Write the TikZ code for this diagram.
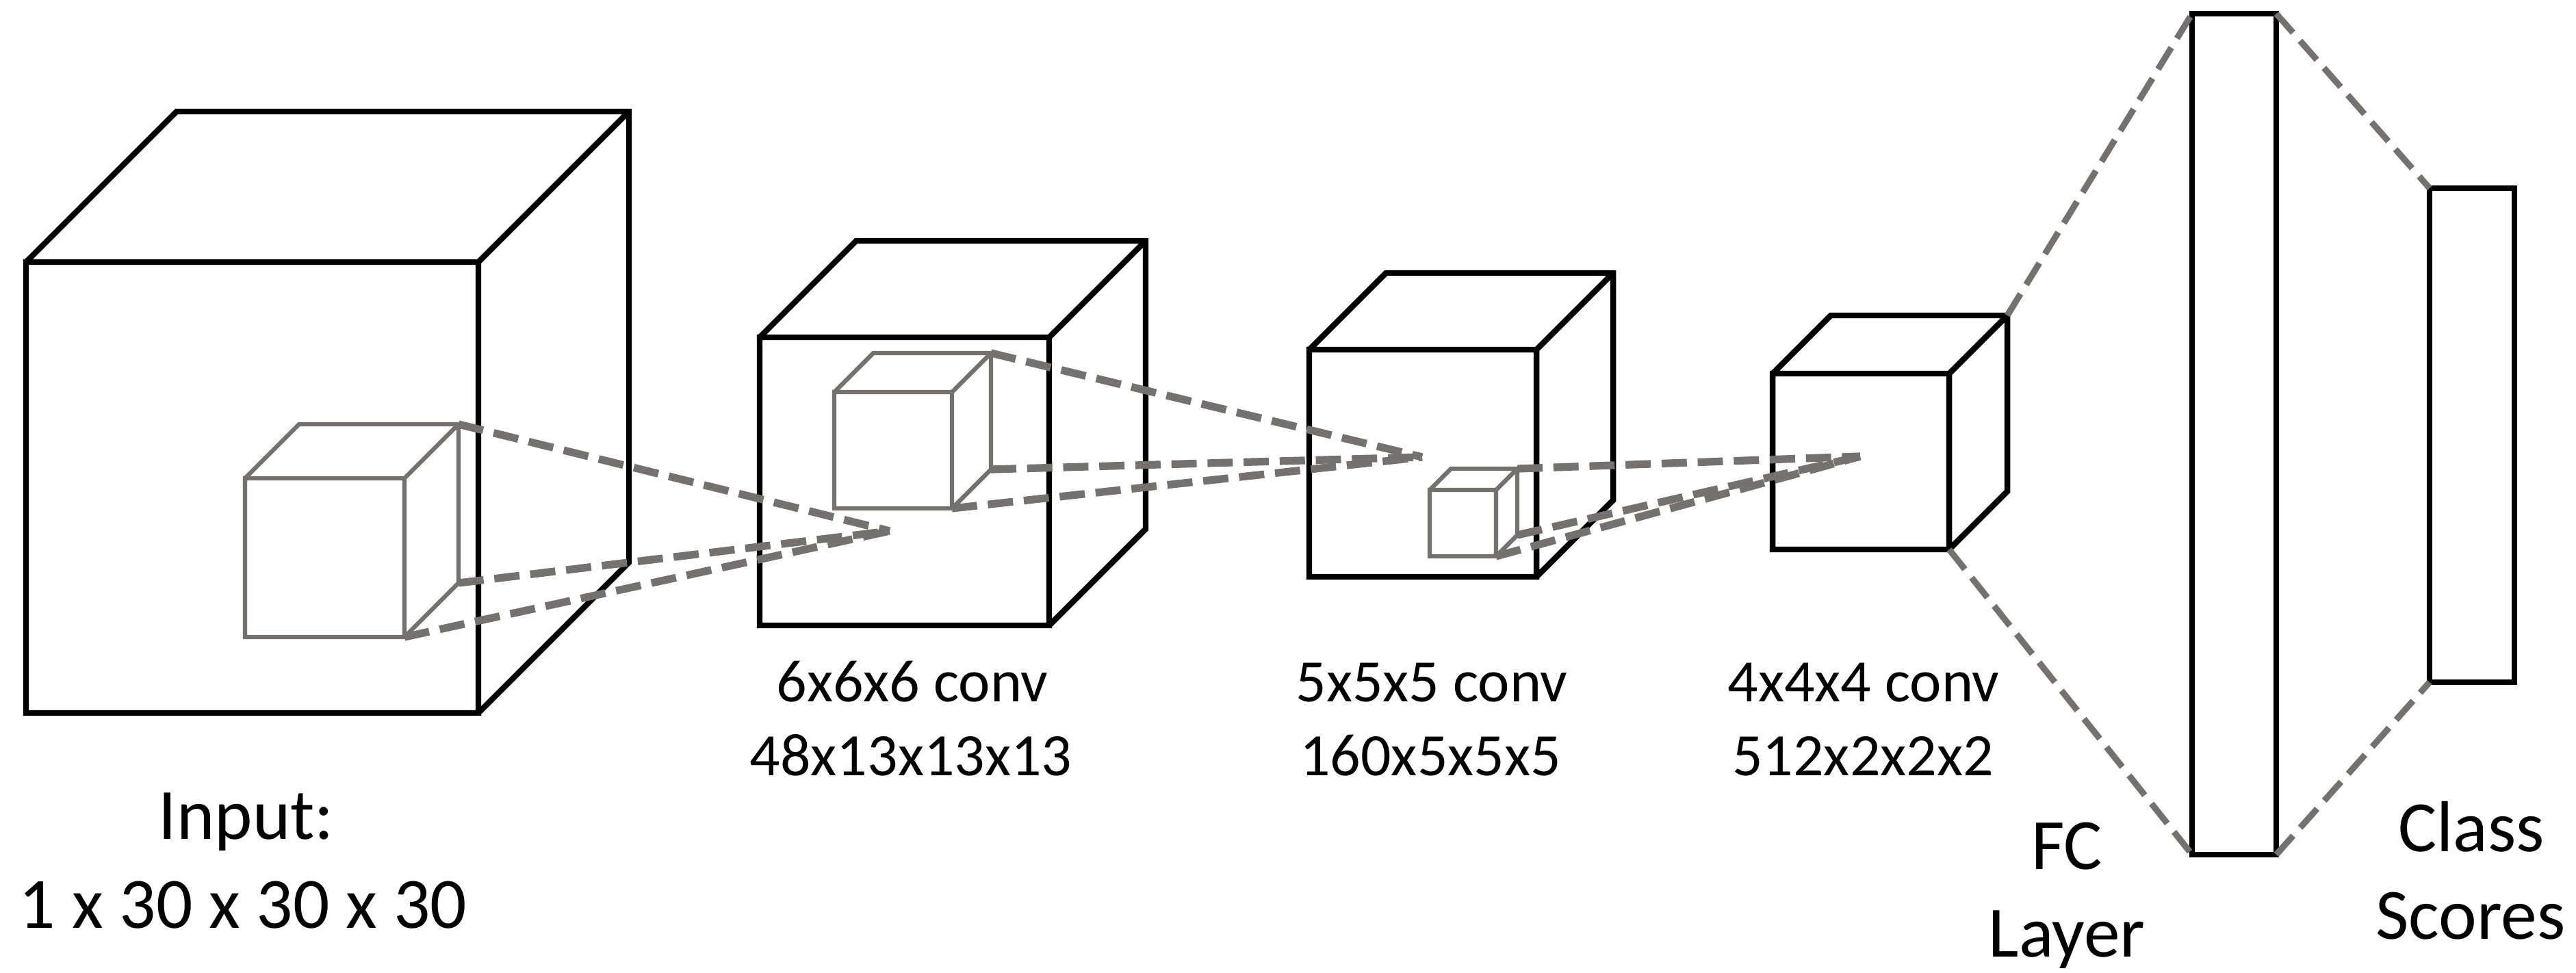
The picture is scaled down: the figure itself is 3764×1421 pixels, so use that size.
\documentclass[tikz,border=0pt]{standalone}
\usepackage{fontspec}
\setmainfont{Carlito}
\definecolor{linkgray}{RGB}{118,113,113}

% A wireframe box seen from the front-right: front face, top face, right face.
% #1 name, #2 style, #3 left, #4 top, #5 width, #6 height, #7 depth
\newcommand{\wirebox}[7]{%
  \coordinate (#1-ftl) at (#3,#4);
  \coordinate (#1-ftr) at (#3+#5,#4);
  \coordinate (#1-fbr) at (#3+#5,#4+#6);
  \coordinate (#1-fbl) at (#3,#4+#6);
  \coordinate (#1-btl) at (#3+#7,#4-#7);
  \coordinate (#1-btr) at (#3+#5+#7,#4-#7);
  \coordinate (#1-bbr) at (#3+#5+#7,#4+#6-#7);
  \draw[#2] (#1-ftl) rectangle (#1-fbr)
    (#1-ftl) -- (#1-btl) -- (#1-btr) -- (#1-bbr) -- (#1-fbr)
    (#1-ftr) -- (#1-btr);
}

\tikzset{
  volume/.style={draw=black, line width=2.4pt},
  kernel/.style={draw=linkgray, line width=1.8pt},
  receptive/.style={draw=linkgray, line width=3.2pt, dash pattern=on 10.5pt off 4.5pt},
  dense/.style={draw=linkgray, line width=2.6pt, dash pattern=on 10.5pt off 4.5pt},
  biglabel/.style={anchor=base, inner sep=0pt, font=\fontsize{30}{36}\selectfont},
  convlabel/.style={anchor=base, inner sep=0pt, font=\fontsize{25}{30}\selectfont},
}

\begin{document}
\begin{tikzpicture}[x=0.01cm, y=-0.01cm]
  \useasboundingbox (0,0) rectangle (3764,1421);

  % feature volumes
  \wirebox{vin}{volume}{38}{383}{661}{659}{220}
  \wirebox{vc1}{volume}{1110}{493}{423}{421}{141}
  \wirebox{vc2}{volume}{1913}{511}{332}{332}{112}
  \wirebox{vc3}{volume}{2590}{546}{258}{257}{85}

  % fully connected layer and class scores
  \draw[volume] (3203,20) coordinate (fc-tl) rectangle (3326,1249) coordinate (fc-br);
  \coordinate (fc-tr) at (3326,20);
  \coordinate (fc-bl) at (3203,1249);
  \draw[volume] (3550,275) coordinate (cs-tl) rectangle (3674,997) coordinate (cs-br);
  \coordinate (cs-bl) at (3550,997);

  % convolution kernels
  \wirebox{kin}{kernel}{358}{699}{233}{232}{79}
  \wirebox{kc1}{kernel}{1219}{573}{172}{170}{57}
  \wirebox{kc2}{kernel}{2089}{716}{97}{97}{31}

  % receptive field targets
  \coordinate (t1) at (1300,776);
  \coordinate (t2) at (2078,668);
  \coordinate (t3) at (2718,667);

  \draw[receptive] (kin-btr) -- (t1);
  \draw[receptive] (kin-bbr) -- (t1);
  \draw[receptive] (kin-fbr) -- (t1);

  \draw[receptive] (kc1-btr) -- (t2);
  \draw[receptive] (kc1-bbr) -- (t2);
  \draw[receptive] (kc1-fbr) -- (t2);

  \draw[receptive] (kc2-btr) -- (t3);
  \draw[receptive] (kc2-bbr) -- (t3);
  \draw[receptive] (kc2-fbr) -- (t3);

  % dense connections
  \draw[dense] (vc3-btr) -- (fc-tl);
  \draw[dense] (vc3-fbr) -- (fc-bl);
  \draw[dense] (fc-tr) -- (cs-tl);
  \draw[dense] (fc-br) -- (cs-bl);

  % labels
  \node[biglabel] (in1) at (360,1226) {Input:};
  \node[biglabel] (in2) at (355,1356) {1 x 30 x 30 x 30};
  \node[convlabel] (c1a) at (1333,1025) {6x6x6 conv};
  \node[convlabel] (c1b) at (1331,1133) {48x13x13x13};
  \node[convlabel] (c2a) at (2092,1025) {5x5x5 conv};
  \node[convlabel] (c2b) at (2090,1133) {160x5x5x5};
  \node[convlabel] (c3a) at (2723,1025) {4x4x4 conv};
  \node[convlabel] (c3b) at (2722,1133) {512x2x2x2};
  \node[biglabel] (fca) at (3020,1270) {FC};
  \node[biglabel] (fcb) at (3020,1398) {Layer};
  \node[biglabel] (csa) at (3611,1244) {Class};
  \node[biglabel] (csb) at (3610,1372) {Scores};
\end{tikzpicture}
\end{document}
